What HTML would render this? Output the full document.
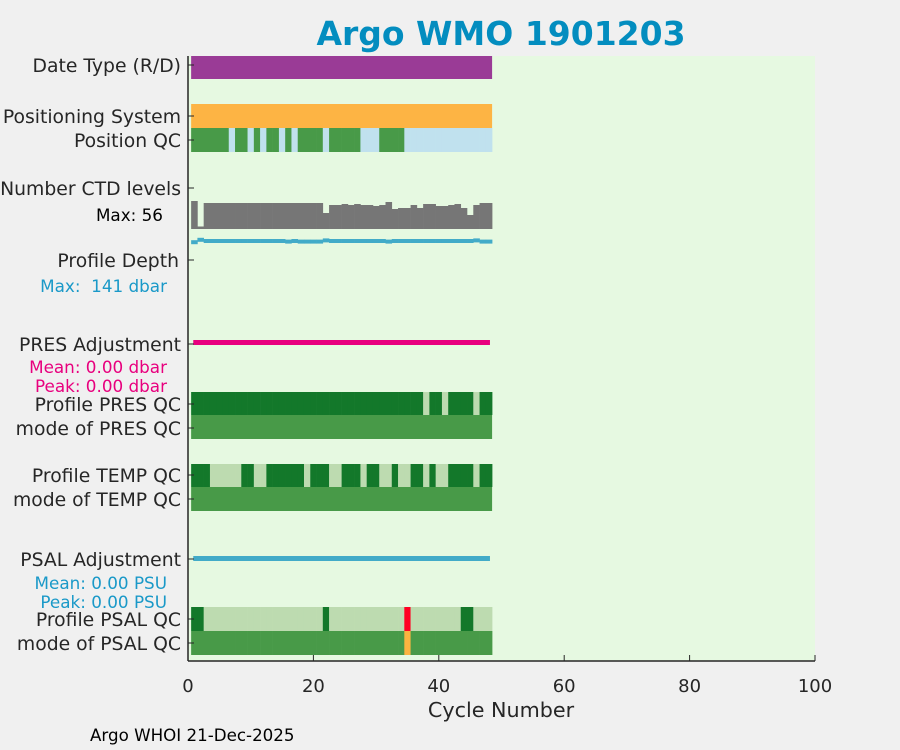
<!DOCTYPE html>
<html><head><meta charset="utf-8"><style>
body{margin:0;background:#f0f0f0;width:900px;height:750px;overflow:hidden}
svg{display:block;font-family:"DejaVu Sans","Liberation Sans",sans-serif}
</style></head><body>
<svg id="chart" width="900" height="750">
<rect x="0" y="0" width="900" height="750" fill="#f0f0f0"/>
<text x="501" y="45" text-anchor="middle" font-size="33" font-weight="bold" fill="#038dbf">Argo WMO 1901203</text>
<rect x="188" y="56" width="627" height="605" fill="#e6f9e1"/>
<g id="marks"></g>
<line x1="188" y1="56" x2="188" y2="661" stroke="#262626" stroke-width="1.5"/>
<line x1="188" y1="661" x2="815" y2="661" stroke="#262626" stroke-width="1.5"/>
<g id="xticks"></g>
<g id="labels" font-size="18.8" fill="#262626" text-anchor="end" transform="translate(0,1)">
<text x="181" y="71">Date Type (R/D)</text>
<text x="181" y="122">Positioning System</text>
<text x="181" y="146">Position QC</text>
<text x="181" y="194">Number CTD levels</text>
<text x="163" y="220" font-size="16.8" fill="#000">Max: 56</text>
<text x="179" y="266">Profile Depth</text>
<text x="167" y="291" font-size="16.8" fill="#1a99c8">Max:&#160; 141 dbar</text>
<text x="181" y="350">PRES Adjustment</text>
<text x="167" y="372" font-size="16.8" fill="#e8007e">Mean: 0.00 dbar</text>
<text x="167" y="391" font-size="16.8" fill="#e8007e">Peak: 0.00 dbar</text>
<text x="181" y="410">Profile PRES QC</text>
<text x="181" y="434">mode of PRES QC</text>
<text x="181" y="481">Profile TEMP QC</text>
<text x="181" y="505">mode of TEMP QC</text>
<text x="181" y="565">PSAL Adjustment</text>
<text x="167" y="588" font-size="16.8" fill="#1a99c8">Mean: 0.00 PSU</text>
<text x="167" y="607" font-size="16.8" fill="#1a99c8">Peak: 0.00 PSU</text>
<text x="181" y="625">Profile PSAL QC</text>
<text x="181" y="649">mode of PSAL QC</text>
</g>
<text x="501" y="717" text-anchor="middle" font-size="20.7" fill="#262626">Cycle Number</text>
<text x="90" y="741" font-size="16.7" fill="#000">Argo WHOI 21-Dec-2025</text>
</svg>
<script>
const cycles = Array.from({length:48},(_,i)=>i+1);
const xTicks = [0,20,40,60,80,100];
const positionQC = [1,1,1,1,1,1,8,1,1,8,1,8,1,1,8,1,8,1,1,1,1,8,1,1,1,1,1,8,8,8,1,1,1,1,8,8,8,8,8,8,8,8,8,8,8,8,8,8];
const ctdLevels = [56,5,52,52,52,52,52,52,52,52,52,52,52,52,52,52,52,52,52,52,52,32,48,48,50,48,50,48,48,46,48,54,40,42,42,48,42,50,50,46,46,48,50,42,28,48,52,52];
const profileDepth = [143,139,141,141,141,141,141,141,141,141,141,141,141,141,141,142,141,142,142,142,142,140,141,141,141,141,141,141,141,141,141,142,141,141,141,141,141,141,141,141,141,141,141,141,141,140,142,142];
const presQC = cycles.map(c=>[38,41,46].includes(c)?'B':'A');
const tempQC = ['A','A','A','B','B','B','B','B','A','A','B','B','A','A','A','A','A','A','B','A','A','A','B','B','A','A','A','B','A','A','B','B','A','B','B','A','A','B','A','B','B','A','A','A','A','B','A','A'];
const psalQC = ['A','A','B','B','B','B','B','B','B','B','B','B','B','B','B','B','B','B','B','B','B','A','B','B','B','B','B','B','B','B','B','B','B','B','R','B','B','B','B','B','B','B','B','A','A','B','B','B'];
const psalMode = cycles.map(c=>c===35?'O':'M');

const X0=188, XS=6.27;
const x = v => X0 + v*XS;
const NS='http://www.w3.org/2000/svg';
const g = document.getElementById('marks');
const col = {1:'#489a48',8:'#c0e1ee',A:'#13782a',B:'#bddbb0',M:'#489a48',R:'#ff0022',O:'#fbb440'};
function rect(x0,y0,w,h,fill){const r=document.createElementNS(NS,'rect');r.setAttribute('x',x0);r.setAttribute('y',y0);r.setAttribute('width',w);r.setAttribute('height',h);r.setAttribute('fill',fill);g.appendChild(r);return r;}
function clipL(a){return Math.max(a,189);}
function row(vals,y0,h,name){
  vals.forEach((v,i)=>{const c=cycles[i];const a=clipL(x(c-0.5)),b=x(c+0.5);
    const r=rect(a,y0,b-a+0.3,h,col[v]);
    
    });
}
function full(y0,h,fill,name){const a=clipL(x(cycles[0]-0.5)),b=x(cycles[cycles.length-1]+0.5);
  const r=rect(a,y0,b-a,h,fill);
  
  }
full(56,23,'#9a3b96','date-type-bar');
full(104,24,'#fdb444','positioning-system-bar');
row(positionQC,128,24,'position-qc');
const ctdMax=Math.max(...ctdLevels);
ctdLevels.forEach((v,i)=>{const c=cycles[i];const a=clipL(x(c-0.5)),b=x(c+0.5);const h=v/ctdMax*28;
  const r=rect(a,229-h,b-a+0.3,h,'#767676');
  
  });
profileDepth.forEach((v,i)=>{const c=cycles[i];const a=clipL(x(c-0.5)),b=x(c+0.5);const top=239+(v-141)*0.6;
  const r=rect(a,top,b-a+0.3,4,'#42abc8');
  
  });
function adj(y0,fill,name){const r=rect(x(cycles[0])-1,y0,x(cycles[cycles.length-1])-x(cycles[0])+2,5,fill);
  
  }
adj(340,'#e8007e','pres-adjustment-line');
row(presQC,392,23,'profile-pres-qc');
full(415,24,'#489a48','mode-pres-qc-bar');
row(tempQC,464,23,'profile-temp-qc');
full(487,24,'#489a48','mode-temp-qc-bar');
adj(556,'#42abc8','psal-adjustment-line');
row(psalQC,607,24,'profile-psal-qc');
row(psalMode,631,24,'mode-psal-qc');
[65,116,140,188,260,344,404,428,475,499,559,619,643].forEach(y=>{const l=document.createElementNS(NS,'line');
  l.setAttribute('x1',188);l.setAttribute('x2',194);l.setAttribute('y1',y);l.setAttribute('y2',y);l.setAttribute('stroke','#262626');
  
  
  g.appendChild(l);});
const xt=document.getElementById('xticks');
xTicks.forEach(t=>{const l=document.createElementNS(NS,'line');
  l.setAttribute('x1',x(t));l.setAttribute('x2',x(t));l.setAttribute('y1',655);l.setAttribute('y2',661);l.setAttribute('stroke','#262626');
  
  
  xt.appendChild(l);
  const s=document.createElementNS(NS,'text');s.setAttribute('x',x(t));s.setAttribute('y',692);s.setAttribute('text-anchor','middle');s.setAttribute('font-size','18');s.setAttribute('fill','#262626');s.textContent=t;
  
  
  xt.appendChild(s);});
</script>
</body></html>
